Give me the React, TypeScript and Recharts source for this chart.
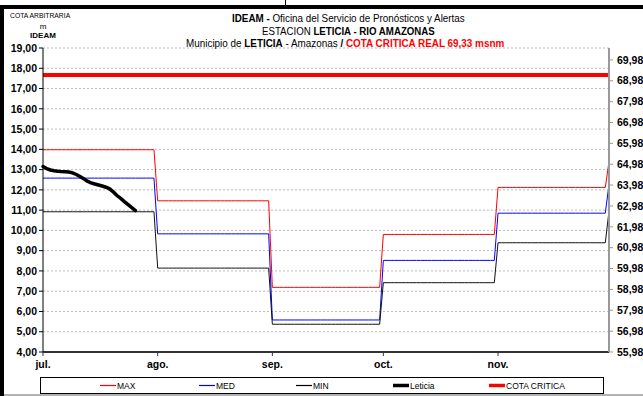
import React from "react";
import { ComposedChart, Line, XAxis, YAxis, CartesianGrid } from "recharts";

// day index 0 = 1 jul, 153 = 1 dic
const monthLabels = ["jul.", "ago.", "sep.", "oct.", "nov."];
const monthStartDays = [0, 31, 62, 92, 123, 153];

// monthly level of each reference curve (jul, ago, sep, oct, nov, dic)
const maxLevels = [13.98, 11.46, 7.19, 9.8, 12.12, 13.4];
const medLevels = [12.58, 9.83, 5.58, 8.52, 10.85, 12.27];
const minLevels = [10.92, 8.14, 5.37, 7.42, 9.39, 10.96];

// observed daily level at Leticia from 1 jul
const leticiaLevels = [
  13.15, 13.05, 12.98, 12.94, 12.92, 12.9, 12.89, 12.88, 12.84, 12.76,
  12.66, 12.55, 12.43, 12.34, 12.29, 12.24, 12.19, 12.13, 12.05, 11.9,
  11.72, 11.58, 11.42, 11.27, 11.12, 10.98,
];

const cotaCritica = 17.67;

const leftTicks = [4, 5, 6, 7, 8, 9, 10, 11, 12, 13, 14, 15, 16, 17, 18, 19];
const rightTicks = [
  55.98, 56.98, 57.98, 58.98, 59.98, 60.98, 61.98, 62.98, 63.98, 64.98,
  65.98, 66.98, 67.98, 68.98, 69.98,
];

const lastDay = monthStartDays[monthStartDays.length - 1];
const data: any[] = [];
for (let d = 0; d <= lastDay; d++) {
  let m = 0;
  while (m + 1 < monthStartDays.length && monthStartDays[m + 1] <= d) m++;
  data.push({
    day: d,
    max: maxLevels[m],
    med: medLevels[m],
    min: minLevels[m],
    leticia: d < leticiaLevels.length ? leticiaLevels[d] : null,
    cota: cotaCritica,
  });
}

const fmt = (v: number) => v.toFixed(2).replace(".", ",");
const tickStyle = { fill: "#000", fontSize: 10.5, fontWeight: "bold" as const };

const legendItems = [
  { label: "MAX", color: "#ff0000", w: 1.2, x: 100 },
  { label: "MED", color: "#0000ff", w: 1.2, x: 199 },
  { label: "MIN", color: "#000000", w: 1.2, x: 296 },
  { label: "Leticia", color: "#000000", w: 3.5, x: 393 },
  { label: "COTA CRITICA", color: "#ff0000", w: 3.5, x: 489 },
];

export default function App() {
  return (
    <div
      style={{
        position: "absolute",
        left: 0,
        top: 0,
        width: 643,
        height: 396,
        background: "#fff",
        fontFamily: "'Liberation Sans', Arial, sans-serif",
      }}
    >
      <ComposedChart
        width={643}
        height={396}
        data={data}
        margin={{ top: 48, right: 0, bottom: 24, left: 0 }}
      >
        <CartesianGrid
          yAxisId="left"
          vertical={false}
          stroke="#bbb"
          strokeDasharray="2 2"
        />
        <XAxis
          dataKey="day"
          type="number"
          domain={[0, lastDay]}
          ticks={monthStartDays.slice(0, 5)}
          interval={0}
          tickFormatter={(v: number) => monthLabels[monthStartDays.indexOf(v)]}
          height={20}
          axisLine={{ stroke: "#333", strokeWidth: 2 }}
          tickLine={{ stroke: "#333" }}
          tickSize={4}
          tickMargin={5}
          tick={tickStyle}
        />
        <YAxis
          yAxisId="left"
          type="number"
          domain={[4, 19]}
          ticks={leftTicks}
          interval={0}
          width={43}
          tickFormatter={fmt}
          axisLine={{ stroke: "#000" }}
          tickLine={{ stroke: "#000" }}
          tickSize={4}
          tick={tickStyle}
        />
        <YAxis
          yAxisId="right"
          orientation="right"
          type="number"
          domain={[55.98, 70.55]}
          allowDataOverflow
          ticks={rightTicks}
          interval={0}
          width={34}
          tickFormatter={fmt}
          axisLine={{ stroke: "#999", strokeWidth: 2 }}
          tickLine={{ stroke: "#999" }}
          tickSize={4}
          tickMargin={4}
          tick={tickStyle}
        />
        <Line yAxisId="left" dataKey="cota" stroke="#ff0000" strokeWidth={4} dot={false} isAnimationActive={false} />
        <Line yAxisId="left" dataKey="max" stroke="#ff0000" strokeWidth={1} dot={false} isAnimationActive={false} />
        <Line yAxisId="left" dataKey="med" stroke="#0000ff" strokeWidth={1} dot={false} isAnimationActive={false} />
        <Line yAxisId="left" dataKey="min" stroke="#111" strokeWidth={1} dot={false} isAnimationActive={false} />
        <Line
          yAxisId="left"
          dataKey="leticia"
          stroke="#000"
          strokeWidth={3.5}
          strokeLinecap="round"
          dot={false}
          connectNulls={false}
          isAnimationActive={false}
        />
      </ComposedChart>

      <svg
        width={643}
        height={396}
        style={{ position: "absolute", left: 0, top: 0, pointerEvents: "none" }}
      >
        {/* frame */}
        <rect x={0} y={5} width={643} height={4} fill="#000" />
        <rect x={0} y={5} width={4} height={391} fill="#000" />
        <line x1={285.5} y1={0} x2={285.5} y2={6} stroke="#000" />
        <line x1={4} y1={395} x2={643} y2={395} stroke="#666" />

        {/* axis caption */}
        <text transform="translate(10,18) scale(0.85,1)" fontSize={8}>
          COTA ARBITRARIA
        </text>
        <text x={43} y={29} fontSize={8} textAnchor="middle">m</text>
        <text x={43} y={38} fontSize={8} fontWeight="bold" textAnchor="middle">IDEAM</text>

        {/* titles, horizontally condensed like the source */}
        <text transform="translate(232,22) scale(0.895,1)" fontSize={11}>
          <tspan fontWeight="bold">IDEAM - </tspan>
          <tspan>Oficina del Servicio de Pronósticos y Alertas</tspan>
        </text>
        <text transform="translate(262,35) scale(0.88,1)" fontSize={11}>
          <tspan>ESTACION </tspan>
          <tspan fontWeight="bold">LETICIA - RIO AMAZONAS</tspan>
        </text>
        <text transform="translate(186,47) scale(0.9,1)" fontSize={11}>
          <tspan>Municipio de </tspan>
          <tspan fontWeight="bold">LETICIA</tspan>
          <tspan> - Amazonas </tspan>
          <tspan fontWeight="bold">{" /  "}</tspan>
          <tspan fontWeight="bold" fill="#ff0000">COTA CRITICA REAL 69,33 msnm</tspan>
        </text>

        {/* legend */}
        <rect x={40.5} y={377.5} width={563} height={16} fill="#fff" stroke="#000" />
        {legendItems.map((it) => (
          <g key={it.label}>
            <line x1={it.x} y1={385.5} x2={it.x + 16} y2={385.5} stroke={it.color} strokeWidth={it.w} />
            <text x={it.x + 17} y={389} fontSize={8.5}>
              {it.label}
            </text>
          </g>
        ))}
      </svg>
    </div>
  );
}
